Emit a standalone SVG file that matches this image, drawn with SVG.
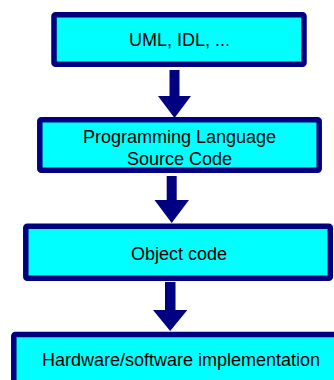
<svg xmlns="http://www.w3.org/2000/svg" width="334" height="380" viewBox="0 0 334 380">
<style>
.box{fill:#00FFFF;stroke:#000080;stroke-width:5.5;}
.lbl{font-family:"Liberation Sans",Arial,sans-serif;font-size:18px;fill:#000;text-anchor:middle;}
.arr{fill:#000080;}
</style>
<rect width="334" height="380" fill="#fff"/>
<g id="connectors">
<polygon class="arr" points="169.5,70 179.5,70 179.5,96 191,96 174.5,118 158,96 169.5,96"/>
<polygon class="arr" points="166.7,176 176.7,176 176.7,200 189,200 171.7,223 154.5,200 166.7,200"/>
<polygon class="arr" points="165,282 175.5,282 175.5,310 187.3,310 170.2,331 153,310 165,310"/>
</g>
<g id="n1">
<rect class="box" x="54" y="14.8" width="250" height="49.5" rx="1.5"/>
<text class="lbl" x="179.5" y="46">UML, IDL, ...</text>
</g>
<g id="n2">
<rect class="box" x="39.8" y="119.8" width="279.4" height="50.5" rx="1.5"/>
<text class="lbl" x="179.5" y="143">Programming Language</text>
<text class="lbl" x="179.5" y="165">Source Code</text>
</g>
<g id="n3">
<rect class="box" x="25.8" y="226.3" width="304.5" height="52" rx="1.5"/>
<text class="lbl" x="179" y="260">Object code</text>
</g>
<g id="n4">
<rect class="box" x="13.8" y="334.5" width="330" height="60" rx="1.5"/>
<text class="lbl" x="181" y="366">Hardware/software implementation</text>
</g>
</svg>
